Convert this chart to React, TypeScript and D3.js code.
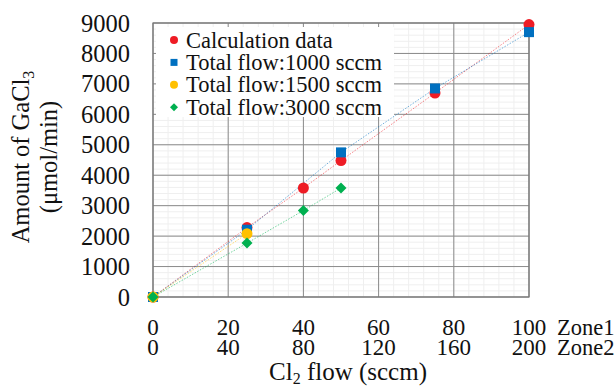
import React, { useEffect } from 'react';
import * as d3 from 'd3';

const W = 615;
const H = 387;

const calcX = [0, 25, 40, 50, 75, 100];
const calcY = [0, 2280, 3580, 4480, 6700, 8950];
const flow1000X = [0, 25, 50, 75, 100];
const flow1000Y = [0, 2210, 4750, 6850, 8700];
const flow1500X = [0, 25];
const flow1500Y = [0, 2080];
const flow3000X = [0, 25, 40, 50];
const flow3000Y = [0, 1770, 2840, 3580];

const zone1Ticks = [0, 20, 40, 60, 80, 100];
const zone2Ticks = [0, 40, 80, 120, 160, 200];
const yTicks = [0, 1000, 2000, 3000, 4000, 5000, 6000, 7000, 8000, 9000];

const legendLabels = [
  'Calculation data',
  'Total flow:1000 sccm',
  'Total flow:1500 sccm',
  'Total flow:3000 sccm',
];

const RED = '#ee1c25';
const BLUE = '#0070c0';
const YELLOW = '#ffc000';
const GREEN = '#00b050';

const FONT = '"Liberation Serif", "DejaVu Serif", serif';

type Shape = 'circle' | 'square' | 'diamond';

const Marker: React.FC<{ x: number; y: number; shape: Shape; color: string; size: number }> = ({
  x,
  y,
  shape,
  color,
  size,
}) => {
  if (shape === 'circle') return <circle cx={x} cy={y} r={size / 2} fill={color} />;
  if (shape === 'square')
    return <rect x={x - size / 2} y={y - size / 2} width={size} height={size} fill={color} />;
  const s = size / 2;
  return <path d={`M${x},${y - s}L${x + s},${y}L${x},${y + s}L${x - s},${y}Z`} fill={color} />;
};

const App: React.FC = () => {
  useEffect(() => {
    document.body.style.margin = '0';
  }, []);

  const left = 153;
  const right = 529;
  const top = 23;
  const bottom = 297;

  const x = d3.scaleLinear().domain([0, 100]).range([left, right]);
  const y = d3.scaleLinear().domain([0, 9000]).range([bottom, top]);

  const series = [
    { xs: calcX, ys: calcY, color: RED, shape: 'circle' as Shape, size: 11 },
    { xs: flow1000X, ys: flow1000Y, color: BLUE, shape: 'square' as Shape, size: 10 },
    { xs: flow1500X, ys: flow1500Y, color: YELLOW, shape: 'circle' as Shape, size: 11 },
    { xs: flow3000X, ys: flow3000Y, color: GREEN, shape: 'diamond' as Shape, size: 11 },
  ];

  const line = d3
    .line<[number, number]>()
    .x(d => x(d[0]))
    .y(d => y(d[1]));

  const minorX = d3.range(0, 101, 4);
  const minorY = d3.range(0, 9001, 200);

  return (
    <svg width={W} height={H} style={{ display: 'block' }} fontFamily={FONT}>
      <rect width={W} height={H} fill="#fff" />

      {/* minor grid */}
      {minorX.map(v => (
        <line key={'mx' + v} x1={x(v)} x2={x(v)} y1={top} y2={bottom} stroke="#efefef" strokeWidth={1} />
      ))}
      {minorY.map(v => (
        <line key={'my' + v} x1={left} x2={right} y1={y(v)} y2={y(v)} stroke="#efefef" strokeWidth={1} />
      ))}

      {/* major grid */}
      {zone1Ticks.map(v => (
        <line key={'gx' + v} x1={x(v)} x2={x(v)} y1={top} y2={bottom} stroke="#8a8a8a" strokeWidth={1} />
      ))}
      {yTicks.map(v => (
        <line key={'gy' + v} x1={left} x2={right} y1={y(v)} y2={y(v)} stroke="#8a8a8a" strokeWidth={1} />
      ))}

      <rect x={left} y={top} width={right - left} height={bottom - top} fill="none" stroke="#777" strokeWidth={1.2} />

      {/* legend box */}
      <rect x={156} y={27} width={238} height={90} fill="#fff" />
      {legendLabels.map((label, i) => {
        const cy = 40 + i * 22.4;
        const s = series[i];
        return (
          <g key={label}>
            <Marker x={174} y={cy} shape={s.shape} color={s.color} size={s.shape === 'square' ? 7 : 8} />
            <text x={186} y={cy + 7.5} fontSize={22.5} fill="#111">
              {label}
            </text>
          </g>
        );
      })}

      {/* trend lines */}
      {series.map((s, i) => (
        <path
          key={'l' + i}
          d={line(s.xs.map((v, j) => [v, s.ys[j]] as [number, number])) || ''}
          fill="none"
          stroke={s.color}
          strokeOpacity={0.55}
          strokeWidth={1}
          strokeDasharray="1.5,1.5"
        />
      ))}

      {/* markers */}
      {series.map((s, i) =>
        s.xs.map((v, j) => (
          <Marker key={`m${i}-${j}`} x={x(v)} y={y(s.ys[j])} shape={s.shape} color={s.color} size={s.size} />
        ))
      )}

      {/* y tick labels */}
      {yTicks.map(v => (
        <text key={'ty' + v} x={130} y={y(v) + 8.5} fontSize={24.5} textAnchor="end" fill="#111">
          {v}
        </text>
      ))}

      {/* x tick labels, two rows */}
      {zone1Ticks.map((v, i) => (
        <g key={'tx' + v}>
          <text x={x(v)} y={335} fontSize={23} textAnchor="middle" fill="#111">
            {v}
          </text>
          <text x={x(v)} y={355} fontSize={23} textAnchor="middle" fill="#111">
            {zone2Ticks[i]}
          </text>
        </g>
      ))}
      <text x={557} y={335} fontSize={22.5} fill="#111">
        Zone1
      </text>
      <text x={557} y={355} fontSize={22.5} fill="#111">
        Zone2
      </text>

      {/* axis titles */}
      <text x={348} y={380} fontSize={25} textAnchor="middle" fill="#111">
        Cl<tspan fontSize={16} dy={4}>2</tspan>
        <tspan dy={-4}> flow (sccm)</tspan>
      </text>
      <g transform="translate(29,157) rotate(-90)">
        <text x={0} y={0} fontSize={24.5} textAnchor="middle" fill="#111">
          Amount of GaCl<tspan fontSize={16} dy={5}>3</tspan>
        </text>
        <text x={0} y={28} fontSize={24.5} textAnchor="middle" fill="#111">
          (μmol/min)
        </text>
      </g>
    </svg>
  );
};

export default App;
